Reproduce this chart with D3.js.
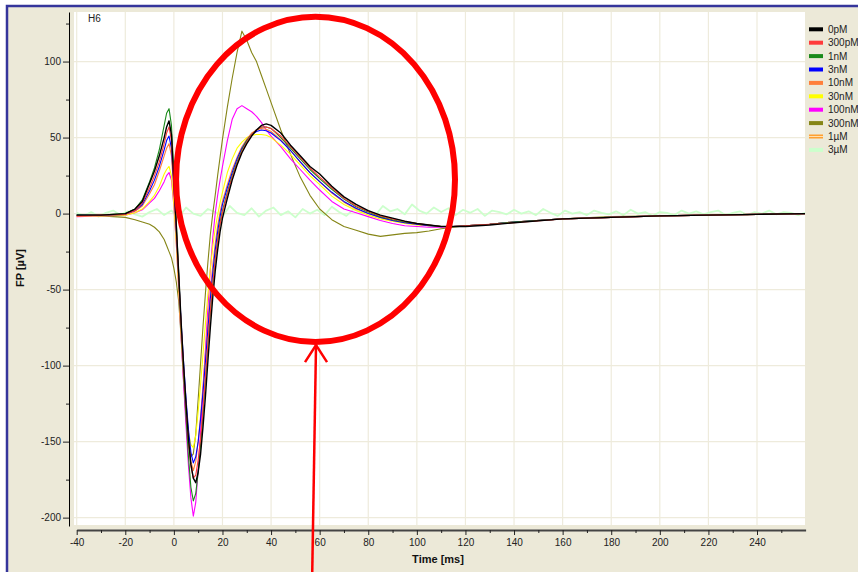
<!DOCTYPE html>
<html>
<head>
<meta charset="utf-8">
<script src="https://cdn.jsdelivr.net/npm/d3@7"></script>
<style>
body { margin: 0; background: #fff; }
svg { display: block; font-family: "Liberation Sans", Arial, sans-serif; }
</style>
</head>
<body>
<svg id="chart" width="858" height="572"></svg>
<script>
// sample times (ms) shared by the evoked traces
var times = [-40,-30,-20,-16,-13, -10,-8,-6,-4,-3, -2,-1,0,1,2, 3,4,5,6,7,
  8,9,10,11,12, 13,14,15,16,17, 18,19,20,22,24, 26,28,30,32,34,
  36,38,40,44,48, 52,56,60,65,70, 75,80,85,90,95, 100,105,110,115,120,
  130,140,160,180,200, 220,240,260];

// FP values (µV)
var fp0pM = [-1,-1,0,3,8, 20,28,38,50,57, 61,52,22,-8,-40, -72,-100,-125,-148,-165,
  -174,-177,-170,-158,-140, -120,-97,-75,-55,-38, -24,-12,-3,10,22, 32,40,46,51,55,
  58,59,58,53,45, 38,31,26,18,11, 6,2,-1,-3,-5, -6.5,-7.5,-8.5,-8.5,-8.5,
  -7.5,-6,-3.5,-2.5,-1.5, -1,-0.5,0];
var fp300pM = [-1.5,-1,-0.5,2,7, 17,25,34,46,53, 57,48,20,-10,-42, -74,-102,-127,-150,-166,
  -174,-172,-162,-148,-128, -107,-85,-64,-46,-31, -18,-7,1,13,24, 33,41,47,52,55,
  57,57,56,51,44, 37,30,24,17,10, 5,1.5,-1.5,-3.5,-5, -6.5,-7.5,-8.5,-8.5,-8,
  -7,-6,-3.5,-2.5,-1.5, -1,-0.5,0];
var fp1nM = [-1,-1,0,3,9, 21,30,42,58,66, 69,58,26,-6,-40, -75,-106,-134,-160,-180,
  -189,-184,-170,-152,-131, -109,-86,-65,-46,-30, -17,-6,2,14,25, 34,42,48,52,55,
  57,57,56,50,43, 36,29,23,16,9.5, 4.5,1,-2,-4,-5.5, -6.5,-7.5,-8.5,-8.5,-8,
  -7,-5.5,-3.5,-2.5,-1.5, -1,-0.5,0];
var fp3nM = [-1,-1,-0.5,2,6, 15,22,31,42,48, 51,43,17,-12,-42, -72,-98,-122,-142,-157,
  -164,-160,-150,-135,-117, -97,-76,-56,-39,-24, -12,-2,6,17,27, 36,43,48,52,54,
  55,54.5,53,48,41.5, 34,27,21,14,8, 3.5,0,-2.5,-4.5,-6, -7,-8,-8.5,-8.5,-8,
  -7,-5.5,-3.5,-2.5,-1.5, -1,-0.5,0];
var fp10nM = [-1.5,-1,-0.5,1.5,5, 13,19,28,38,43, 46,38,14,-15,-46, -76,-103,-128,-148,-163,
  -169,-163,-150,-133,-113, -92,-71,-51,-34,-20, -8,1,8,19,29, 37,44,49,53,55,
  56,55.5,54,48.5,41.5, 34,27,21,13.5,7.5, 3,0,-2.5,-4.5,-6, -7,-8,-8.5,-8.5,-8,
  -7,-5.5,-3.5,-2.5,-1.5, -1,-0.5,0];
var fp30nM = [-1.5,-1.5,-1,0.5,3, 8,12,18,26,29, 31,25,6,-20,-50, -80,-106,-128,-144,-152,
  -154,-146,-130,-112,-92, -72,-53,-36,-22,-10, -1,7,14,27,36, 43,47,50,51.5,52,
  52,51.5,50,45,39, 32,25,19,11.5,6, 2,-1,-3.5,-5,-6.5, -7.5,-8,-8.5,-8.5,-8,
  -7,-5.5,-3.5,-2.5,-1.5, -1,-0.5,0];
var fp100nM = [-2,-1.5,-1,0.5,2.5, 7,10,15,21,25, 27,22,5,-20,-50, -82,-112,-140,-166,-187,
  -199,-190,-168,-143,-116, -89,-62,-37,-16,0, 12,22,31,48,62, 69,71,69,67,64,
  60,55,51,44,36, 29,22,15.5,8,3, 0.5,-2,-4.5,-6.5,-8, -8.5,-9,-9,-8.5,-8,
  -7,-5.5,-3.5,-2.5,-1.5, -1,-0.5,0];
var fp300nM = [-1,-1.5,-2.5,-4,-5.5, -7,-9,-12,-17,-21, -25,-29,-36,-45,-58, -82,-110,-135,-152,-160,
  -158,-145,-122,-98,-74, -52,-32,-14,0,12, 25,37,49,70,89, 106,120,114,106,100,
  91,82,73,55,39, 24,12,3,-4,-8.5, -11,-13.5,-15,-14,-13, -12.5,-11.5,-10,-9,-8,
  -7,-5.5,-3.5,-2,-1.5, -1,-0.5,0];
var fp1uM = []; // listed in the legend, no visible trace

// 3 µM trace: flat noisy line, sampled every 3 ms
var times3uM = [-40,-37,-34,-31,-28,-25,-22,-19,-16,-13,
  -10,-7,-4,-1,2,5,8,11,14,17,
  20,23,26,29,32,35,38,41,44,47,
  50,53,56,59,62,65,68,71,74,77,
  80,83,86,89,92,95,98,101,104,107,
  110,113,116,119,122,125,128,131,134,137,
  140,143,146,149,152,155,158,161,164,167,
  170,173,176,179,182,185,188,191,194,197,
  200,203,206,209,212,215,218,221,224,227,
  230,233,236,239,242,245,248,251,254,257,
  260];
var fp3uM = [0.5,-1.5,1,-2,0.5,2,-1,1.5,-0.5,-2,
  1,3,-1,2,-2.5,4,0,-1.5,3,1,
  -2,5,0.5,-1,3.5,-2,2,4,-1,1.5,
  -2.5,3,0,2.5,-1,4.5,1,-1.5,3,0.5,
  2,-1,5,1.5,3,-0.5,6,2,0,4,
  1,3.5,-1,2.5,0.5,3,-1.5,2,1,-0.5,
  2.5,0,1.5,-1,3,0.5,-1.5,2,0,1,
  -1,2,0.5,-0.5,1.5,-1,2.5,0,1,-1.5,
  1,0.5,-1,2,0,1.5,-0.5,1,2,-1,
  0.5,1.5,-1,1,0,2,-0.5,1,0.5,-1,
  0.5];

var names = ["0pM","300pM","1nM","3nM","10nM","30nM","100nM","300nM","1µM","3µM"];
var colors = ["#000000","#ff3b3b","#1a8a1a","#0000ff","#ff7f3a","#ffff00","#ff00ff","#858516","#ffa030","#ccffcc"];

var xTicks = [-40,-20,0,20,40,60,80,100,120,140,160,180,200,220,240];
var xMinor = [-30,-10,10,30,50,70,90,110,130,150,170,190,210,230,250];
var yTicks = [-200,-150,-100,-50,0,50,100];
var yMinor = [-175,-125,-75,-25,25,75,125];

var series = [
  {t: times, v: fp0pM}, {t: times, v: fp300pM}, {t: times, v: fp1nM},
  {t: times, v: fp3nM}, {t: times, v: fp10nM}, {t: times, v: fp30nM},
  {t: times, v: fp100nM}, {t: times, v: fp300nM}, {t: [], v: fp1uM},
  {t: times3uM, v: fp3uM}
];
series.forEach(function(s, i) { s.name = names[i]; s.color = colors[i]; });

var svg = d3.select("#chart");
var plot = {left: 74, right: 805, top: 12, bottom: 525};

var x = d3.scaleLinear().domain([-40, 260]).range([76.7, 805.6]);
var y = d3.scaleLinear().domain([-205.5, 132.6]).range([526, 12]);

// panel
svg.append("rect")
    .attr("x", 7).attr("y", 6).attr("width", 880).attr("height", 590)
    .attr("fill", "#ece9d8")
    .attr("stroke", "#35359b").attr("stroke-width", 2.5);

svg.append("rect")
    .attr("x", plot.left).attr("y", plot.top)
    .attr("width", plot.right - plot.left).attr("height", plot.bottom - plot.top)
    .attr("fill", "#fff");

// grid
svg.append("g").selectAll("line").data(xTicks).enter().append("line")
    .attr("x1", function(d) { return x(d); }).attr("x2", function(d) { return x(d); })
    .attr("y1", plot.top).attr("y2", plot.bottom)
    .attr("stroke", "#eeebdc").attr("stroke-width", 1.2);
svg.append("g").selectAll("line").data(yTicks).enter().append("line")
    .attr("y1", function(d) { return y(d); }).attr("y2", function(d) { return y(d); })
    .attr("x1", plot.left).attr("x2", plot.right)
    .attr("stroke", "#eeebdc").attr("stroke-width", 1.2);

svg.append("text")
    .attr("x", 88).attr("y", 22)
    .style("font-size", "10px").attr("fill", "#222")
    .text("H6");

// plain hyphen for negatives, as in the original
var fmt = function(d) { return String(d); };

// y axis
var yAxisG = svg.append("g")
    .attr("transform", "translate(69,0)")
    .call(d3.axisLeft(y).tickValues(yTicks).tickFormat(fmt).tickSize(6).tickSizeOuter(0).tickPadding(2));
svg.append("g")
    .attr("transform", "translate(69,0)")
    .call(d3.axisLeft(y).tickValues(yMinor).tickSize(3).tickFormat(""))
    .select(".domain").remove();

// x axis
var xAxisG = svg.append("g")
    .attr("transform", "translate(0,530)")
    .call(d3.axisBottom(x).tickValues(xTicks).tickFormat(fmt).tickSize(5).tickSizeOuter(0).tickPadding(4));
svg.append("g")
    .attr("transform", "translate(0,530)")
    .call(d3.axisBottom(x).tickValues(xMinor).tickSize(3).tickFormat(""))
    .select(".domain").remove();
xAxisG.select(".domain").attr("stroke", "#444").attr("stroke-width", 1.8);

svg.selectAll(".tick text").style("font-size", "10px").attr("fill", "#222")
    .style("font-family", "'Liberation Sans', Arial, sans-serif");
svg.selectAll(".tick line").attr("stroke", "#222");

svg.append("text")
    .attr("x", 438).attr("y", 563)
    .attr("text-anchor", "middle")
    .style("font-size", "11px").style("font-weight", "bold").attr("fill", "#111")
    .text("Time [ms]");

svg.append("text")
    .attr("transform", "translate(24,268) rotate(-90)")
    .attr("text-anchor", "middle")
    .style("font-size", "11px").style("font-weight", "bold").attr("fill", "#111")
    .text("FP [µV]");

// traces
svg.append("clipPath").attr("id", "clip")
  .append("rect")
    .attr("x", plot.left).attr("y", plot.top)
    .attr("width", plot.right - plot.left).attr("height", plot.bottom - plot.top);

var line = d3.line()
    .x(function(d) { return x(d[0]); })
    .y(function(d) { return y(d[1]); });

svg.append("g").attr("clip-path", "url(#clip)")
  .selectAll("path")
  .data(series.slice().reverse())
  .enter().append("path")
    .attr("fill", "none")
    .attr("stroke", function(d) { return d.color; })
    .attr("stroke-width", function(d) { return d.name == "3µM" ? 1.8 : (d.name == "0pM" ? 1.4 : 1.1); })
    .attr("stroke-linejoin", "round")
    .attr("d", function(d) { return d.v.length ? line(d3.zip(d.t, d.v)) : null; });

// legend
var leg = svg.append("g").selectAll("g").data(series).enter().append("g")
    .attr("transform", function(d, i) { return "translate(809," + (29.3 + i * 13.4) + ")"; });
leg.append("rect")
    .attr("x", 0).attr("y", -2).attr("width", 14).attr("height", 4)
    .attr("fill", function(d) { return d.color; });
leg.filter(function(d) { return d.name == "1µM"; }).append("rect")
    .attr("x", 0).attr("y", -0.5).attr("width", 14).attr("height", 1)
    .attr("fill", "#ffe0b0");
leg.append("text")
    .attr("x", 19).attr("y", 3.5)
    .style("font-size", "10px").attr("fill", "#222")
    .text(function(d) { return d.name; });

// red annotation: ellipse and arrow
var ann = {t: 58.3, v: 22.5, rt: 57.4, rv: 107};
svg.append("ellipse")
    .attr("cx", x(ann.t)).attr("cy", y(ann.v))
    .attr("rx", x(ann.t + ann.rt) - x(ann.t))
    .attr("ry", y(ann.v - ann.rv) - y(ann.v))
    .attr("fill", "none").attr("stroke", "#ff0000").attr("stroke-width", 6);

var tip = [x(58.5), y(-86.5)], tail = [x(56.9), y(-240)];
svg.append("line")
    .attr("x1", tail[0]).attr("y1", tail[1]).attr("x2", tip[0]).attr("y2", tip[1])
    .attr("stroke", "#ff0000").attr("stroke-width", 2.5);
svg.append("path")
    .attr("d", "M" + (tip[0] - 11) + "," + (tip[1] + 17) + "L" + tip[0] + "," + tip[1] + "L" + (tip[0] + 11) + "," + (tip[1] + 17))
    .attr("fill", "none").attr("stroke", "#ff0000").attr("stroke-width", 2.5);
</script>
</body>
</html>
